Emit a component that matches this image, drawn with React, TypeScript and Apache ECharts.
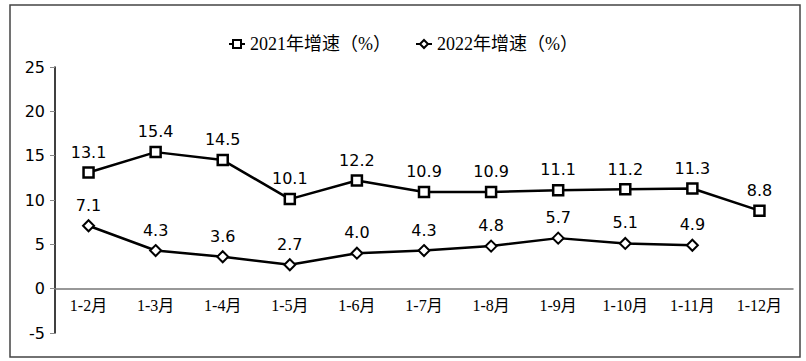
import React, { useEffect, useRef } from "react";
import * as echarts from "echarts";

const categories = ["1-2月", "1-3月", "1-4月", "1-5月", "1-6月", "1-7月", "1-8月", "1-9月", "1-10月", "1-11月", "1-12月"];
const growth2021 = [13.1, 15.4, 14.5, 10.1, 12.2, 10.9, 10.9, 11.1, 11.2, 11.3, 8.8];
const growth2022: (number | null)[] = [7.1, 4.3, 3.6, 2.7, 4.0, 4.3, 4.8, 5.7, 5.1, 4.9, null];
const seriesNames = ["2021年增速（%）", "2022年增速（%）"];

const serif = "Liberation Serif, Noto Sans CJK SC, serif";
const sans = "DejaVu Sans, sans-serif";

const GRID_TOP = 67;
const GRID_BOTTOM = 28;
const GRID_H = 361 - GRID_TOP - GRID_BOTTOM;

export default function App() {
  const ref = useRef<HTMLDivElement>(null);
  useEffect(() => {
    if (!ref.current) return;
    const chart = echarts.init(ref.current, null, { renderer: "svg" });
    const labelCfg = {
      show: true,
      position: "top" as const,
      distance: 6,
      color: "#000",
      fontFamily: sans,
      fontSize: 16,
      formatter: (p: any) => Number(p.value).toFixed(1),
    };
    chart.setOption({
      animation: false,
      backgroundColor: "#fff",
      graphic: [
        {
          type: "rect",
          shape: { x: 10, y: 5, width: 790, height: 352 },
          style: { fill: "none", stroke: "#444", lineWidth: 1.5 },
          silent: true,
        },
      ],
      legend: {
        top: 30,
        left: "center",
        itemGap: 24,
        itemWidth: 16,
        itemHeight: 10,
        textStyle: { fontFamily: serif, fontSize: 18, color: "#000" },
        data: seriesNames,
      },
      grid: { left: 55, right: 13, top: GRID_TOP, bottom: GRID_BOTTOM },
      xAxis: {
        type: "category",
        data: categories,
        boundaryGap: true,
        offset: -GRID_H / 6,
        axisLine: { onZero: false, lineStyle: { color: "#777", width: 1.5 } },
        axisTick: { show: false },
        axisLabel: { fontFamily: serif, fontSize: 16, color: "#000", margin: 9, interval: 0 },
      },
      yAxis: {
        type: "value",
        min: -5,
        max: 25,
        interval: 5,
        axisLine: { show: true, lineStyle: { color: "#000", width: 1.5 } },
        axisTick: { show: true, length: 5, lineStyle: { color: "#888" } },
        splitLine: { show: false },
        axisLabel: { fontFamily: sans, fontSize: 16, color: "#000", margin: 10 },
      },
      series: [
        {
          name: seriesNames[0],
          type: "line",
          data: growth2021,
          symbol: "rect",
          symbolSize: 10,
          lineStyle: { color: "#000", width: 2.5 },
          itemStyle: { color: "#fff", borderColor: "#000", borderWidth: 2.5 },
          label: labelCfg,
        },
        {
          name: seriesNames[1],
          type: "line",
          data: growth2022,
          symbol: "diamond",
          symbolSize: 11,
          connectNulls: false,
          lineStyle: { color: "#000", width: 2.5 },
          itemStyle: { color: "#fff", borderColor: "#000", borderWidth: 2 },
          label: labelCfg,
        },
      ],
    });
    return () => chart.dispose();
  }, []);
  return <div ref={ref} style={{ position: "absolute", left: 0, top: 0, width: 806, height: 361 }} />;
}
